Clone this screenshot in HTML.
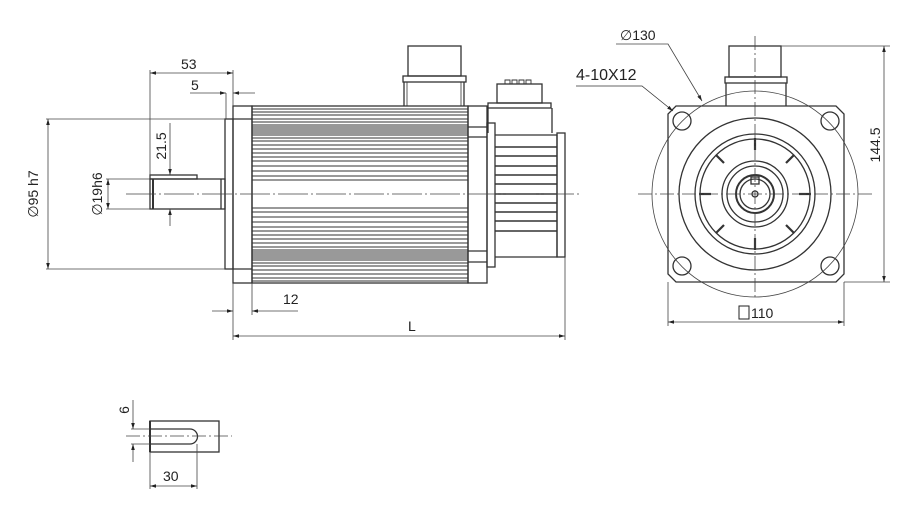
<!DOCTYPE html>
<html><head><meta charset="utf-8"><style>
html,body{margin:0;padding:0;background:#fff;}
svg{display:block;}
text{font-family:"Liberation Sans",sans-serif;fill:#222;}
</style></head><body>
<svg id="s" width="918" height="509" viewBox="0 0 918 509" xmlns="http://www.w3.org/2000/svg">
<defs>
<marker id="a" viewBox="0 0 10 10" refX="10" refY="5" markerWidth="9" markerHeight="6" orient="auto-start-reverse" markerUnits="userSpaceOnUse"><path d="M0,2 L10,5 L0,8z" fill="#222"/></marker>
</defs>
<g stroke="#333" fill="none" stroke-width="1.3">
<!-- side view -->
<rect x="225" y="119" width="8" height="150"/>
<rect x="233" y="106" width="19" height="177"/>
<line x1="233" y1="119" x2="252" y2="119"/><line x1="233" y1="269" x2="252" y2="269"/>
<rect x="252" y="106" width="216" height="177"/>
<g id="fins" stroke-width="1"></g>
<rect x="468" y="106" width="19" height="177"/>
<line x1="468" y1="127" x2="487" y2="127"/><line x1="468" y1="137" x2="487" y2="137"/>
<line x1="468" y1="251" x2="487" y2="251"/><line x1="468" y1="262" x2="487" y2="262"/>
<rect x="487" y="123" width="8" height="144"/>
<path d="M495 135 H557 V257 H495"/>
<rect x="557" y="133" width="8" height="124"/>
<g id="efins" stroke-width="1.6"></g>
<!-- power connector -->
<rect x="408" y="46" width="53" height="30"/>
<rect x="403" y="76" width="63" height="6"/>
<path d="M404 82 V106 M464 82 V106"/><path d="M407 82 V106 M461 82 V106" stroke-width="0.8"/>
<!-- encoder connector -->
<rect x="497" y="84" width="45" height="19"/>
<rect x="488" y="103" width="63" height="5"/>
<path d="M488 108 V133 M552 108 V133"/>
<path d="M505 84 v-4 h5 v4 M512 84 v-4 h5 v4 M519 84 v-4 h5 v4 M526 84 v-4 h5 v4" stroke-width="0.9"/>
<!-- shaft -->
<rect x="150" y="179" width="75" height="30"/>
<rect x="150" y="175" width="47" height="4"/>
<line x1="153" y1="179" x2="153" y2="209" stroke-width="2"/>
<line x1="221" y1="179" x2="221" y2="209"/>
</g>
<g stroke="#444" stroke-width="0.8" fill="none">
<line x1="126" y1="194" x2="580" y2="194" stroke-dasharray="30 3 2 3"/>
<!-- dims -->
<line x1="150" y1="70" x2="150" y2="178"/><line x1="233" y1="70" x2="233" y2="106"/>
<line x1="150" y1="73" x2="233" y2="73" marker-start="url(#a)" marker-end="url(#a)"/>
<line x1="226" y1="93" x2="226" y2="119"/>
<line x1="190" y1="93" x2="226" y2="93" marker-end="url(#a)"/><line x1="255" y1="93" x2="233" y2="93" marker-end="url(#a)"/>
<line x1="46" y1="119" x2="225" y2="119"/><line x1="46" y1="269" x2="225" y2="269"/>
<line x1="48" y1="119" x2="48" y2="269" marker-start="url(#a)" marker-end="url(#a)"/>
<line x1="106" y1="179" x2="150" y2="179"/><line x1="106" y1="209" x2="150" y2="209"/>
<line x1="108" y1="179" x2="108" y2="209" marker-start="url(#a)" marker-end="url(#a)"/>
<line x1="170" y1="123" x2="170" y2="175" marker-end="url(#a)"/><line x1="170" y1="226" x2="170" y2="209" marker-end="url(#a)"/>
<line x1="233" y1="283" x2="233" y2="340"/><line x1="252" y1="283" x2="252" y2="315"/>
<line x1="212" y1="311" x2="233" y2="311" marker-end="url(#a)"/><line x1="298" y1="311" x2="252" y2="311" marker-end="url(#a)"/>
<line x1="565" y1="257" x2="565" y2="340"/>
<line x1="233" y1="336" x2="565" y2="336" marker-start="url(#a)" marker-end="url(#a)"/>
</g>
<text x="181" y="69" font-size="14">53</text>
<text x="191" y="90" font-size="14">5</text>
<text x="283" y="304" font-size="14">12</text>
<text x="408" y="331" font-size="14">L</text>
<text transform="translate(38,194) rotate(-90)" font-size="14" text-anchor="middle">∅95 h7</text>
<text transform="translate(102,194) rotate(-90)" font-size="14" text-anchor="middle">∅19h6</text>
<text transform="translate(166,146) rotate(-90)" font-size="14" text-anchor="middle">21.5</text>

<!-- front view -->
<g stroke="#333" fill="none" stroke-width="1.3">
<path d="M676 106 H836 L844 114 V274 L836 282 H676 L668 274 V114 Z"/>
<circle cx="682" cy="121" r="9"/><circle cx="830" cy="121" r="9"/>
<circle cx="682" cy="266" r="9"/><circle cx="830" cy="266" r="9"/>
<circle cx="755" cy="194" r="76"/>
<circle cx="755" cy="194" r="60"/>
<circle cx="755" cy="194" r="55"/>
<circle cx="755" cy="194" r="33"/>
<circle cx="755" cy="194" r="28"/>
<circle cx="755" cy="194" r="19" stroke-width="2"/>
<circle cx="755" cy="194" r="15"/>
<circle cx="755" cy="194" r="3"/>
<rect x="751" y="177" width="8" height="7"/>
<rect x="729" y="46" width="52" height="31"/>
<rect x="725" y="77" width="62" height="6"/>
<path d="M726 83 V106 M786 83 V106"/>
<g stroke-width="2.2">
<line x1="755" y1="138" x2="755" y2="150"/><line x1="755" y1="238" x2="755" y2="250"/>
<line x1="699" y1="194" x2="711" y2="194"/><line x1="799" y1="194" x2="811" y2="194"/>
<line x1="716" y1="155" x2="724" y2="163"/><line x1="794" y1="155" x2="786" y2="163"/>
<line x1="716" y1="233" x2="724" y2="225"/><line x1="794" y1="233" x2="786" y2="225"/>
</g>
</g>
<g stroke="#444" stroke-width="0.8" fill="none">
<circle cx="755" cy="194" r="103"/>
<line x1="638" y1="194" x2="873" y2="194" stroke-dasharray="14 3 2 3"/>
<line x1="755" y1="36" x2="755" y2="300" stroke-dasharray="14 3 2 3"/>
<line x1="781" y1="46" x2="890" y2="46"/><line x1="844" y1="282" x2="890" y2="282"/>
<line x1="884" y1="46" x2="884" y2="282" marker-start="url(#a)" marker-end="url(#a)"/>
<line x1="668" y1="282" x2="668" y2="326"/><line x1="844" y1="282" x2="844" y2="326"/>
<line x1="668" y1="322" x2="844" y2="322" marker-start="url(#a)" marker-end="url(#a)"/>
<path d="M616 44 H668 L702 101" marker-end="url(#a)"/>
<path d="M576 86 H642 L673 111" marker-end="url(#a)" stroke="#333"/>
</g>
<text x="620" y="40" font-size="14">∅130</text>
<text x="576" y="80" font-size="16" fill="#333">4-10X12</text>
<text transform="translate(880,145) rotate(-90)" font-size="14" text-anchor="middle">144.5</text>
<rect x="739" y="306" width="10" height="13" fill="none" stroke="#222" stroke-width="1"/>
<text x="751" y="318" font-size="14">110</text>

<!-- key detail -->
<g stroke="#333" fill="none" stroke-width="1.3">
<rect x="150" y="421" width="69" height="31"/>
<path d="M150 429 H190 A7.5 7.5 0 0 1 190 444 H150"/>
<line x1="150" y1="421" x2="150" y2="452" stroke-width="2"/>
</g>
<g stroke="#444" stroke-width="0.8" fill="none">
<line x1="126" y1="436" x2="232" y2="436" stroke-dasharray="14 3 2 3"/>
<line x1="131" y1="429" x2="150" y2="429"/><line x1="131" y1="444" x2="150" y2="444"/>
<line x1="133" y1="400" x2="133" y2="429" marker-end="url(#a)"/><line x1="133" y1="462" x2="133" y2="444" marker-end="url(#a)"/>
<line x1="150" y1="452" x2="150" y2="489"/><line x1="197" y1="444" x2="197" y2="489"/>
<line x1="150" y1="486" x2="197" y2="486" marker-start="url(#a)" marker-end="url(#a)"/>
</g>
<text transform="translate(129,410) rotate(-90)" font-size="14" text-anchor="middle">6</text>
<text x="163" y="481" font-size="14">30</text>
</svg>
<script>
var ns="http://www.w3.org/2000/svg",f=document.getElementById("fins");
function L(g,x1,y1,x2,y2,w){var l=document.createElementNS(ns,"line");l.setAttribute("x1",x1);l.setAttribute("y1",y1);l.setAttribute("x2",x2);l.setAttribute("y2",y2);if(w)l.setAttribute("stroke-width",w);g.appendChild(l);}
var ys=[109,112,115,119,122,125,127,129,131,133,135,138,141,145,149,153,157,161,166,171,176,180,208,212,217,222,227,231,235,239,243,247,250,252,254,256,258,260,263,266,270,274,278,281];
ys.forEach(function(y){L(f,252,y,468,y);});
var e=document.getElementById("efins");
[147,156,166,175,184,194,203,212,221,231].forEach(function(y){L(e,495,y,557,y);});
</script>
</body></html>
